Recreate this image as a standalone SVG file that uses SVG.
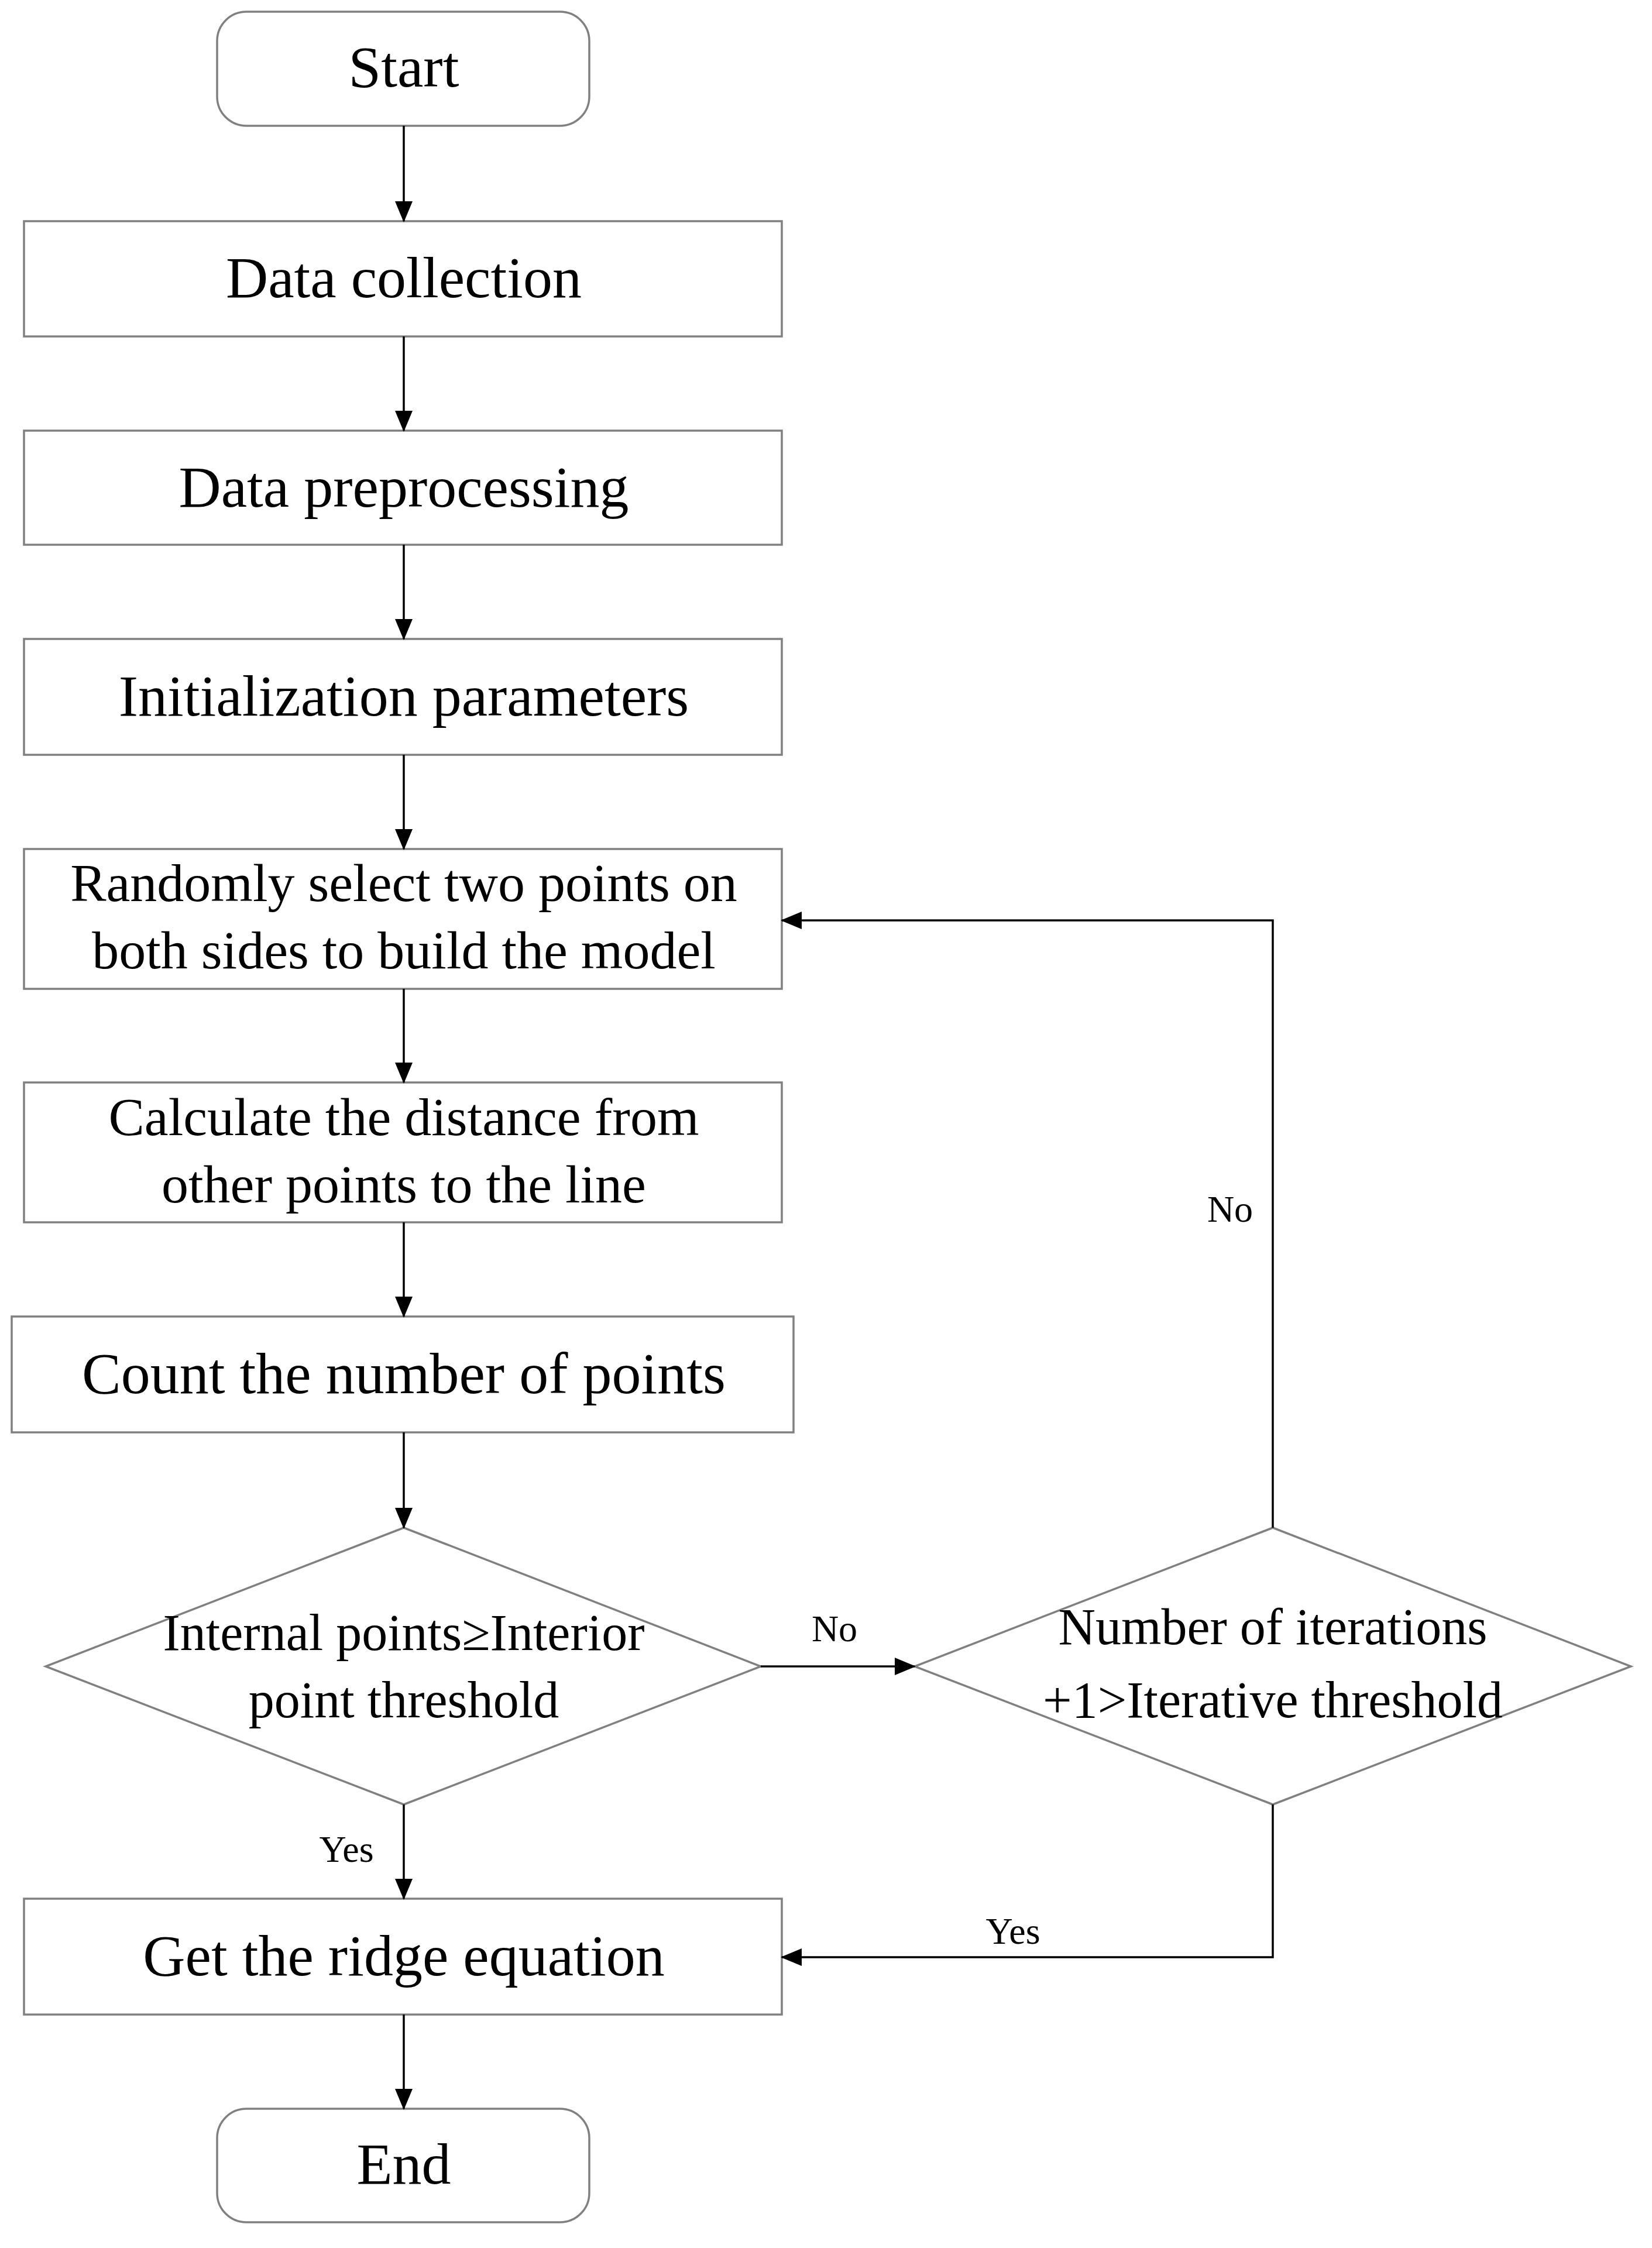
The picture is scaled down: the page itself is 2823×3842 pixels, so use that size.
<svg xmlns="http://www.w3.org/2000/svg" width="2823" height="3842" viewBox="0 0 2823 3842">
<style>
.b{fill:#fff;stroke:#808080;stroke-width:3.5}
.t{font-family:"Liberation Serif",serif;fill:#000;text-anchor:middle}
.l{fill:none;stroke:#000;stroke-width:3.5}
</style>
<defs><marker id="a" markerWidth="12" markerHeight="10" refX="11" refY="5" orient="auto" markerUnits="userSpaceOnUse" viewBox="0 0 12 10"><path d="M0,0L12,5L0,10z" fill="#000"/></marker>
<marker id="A" markerWidth="36" markerHeight="30" refX="34" refY="15" orient="auto" markerUnits="userSpaceOnUse"><path d="M0,0L36,15L0,30z" fill="#000"/></marker></defs>
<rect width="2823" height="3842" fill="#fff"/>
<g id="start"><rect class="b" x="371" y="20" width="636" height="195" rx="50"/><text class="t" x="690" y="148" font-size="100">Start</text></g>
<g id="n1"><rect class="b" x="41" y="378" width="1295" height="197"/><text class="t" x="690" y="508" font-size="100">Data collection</text></g>
<g id="n2"><rect class="b" x="41" y="736" width="1295" height="195"/><text class="t" x="690" y="866" font-size="100">Data preprocessing</text></g>
<g id="n3"><rect class="b" x="41" y="1092" width="1295" height="198"/><text class="t" x="690" y="1223" font-size="100">Initialization parameters</text></g>
<g id="n4"><rect class="b" x="41" y="1451" width="1295" height="239"/><text class="t" x="690" y="1540" font-size="92">Randomly select two points on</text><text class="t" x="690" y="1655" font-size="92">both sides to build the model</text></g>
<g id="n5"><rect class="b" x="41" y="1850" width="1295" height="239"/><text class="t" x="690" y="1940" font-size="92">Calculate the distance from</text><text class="t" x="690" y="2055" font-size="92">other points to the line</text></g>
<g id="n6"><rect class="b" x="20" y="2250" width="1336" height="198"/><text class="t" x="690" y="2381" font-size="100">Count the number of points</text></g>
<g id="d1"><polygon class="b" points="690,2611 1300,2848 690,3084 78,2848"/><text class="t" x="690" y="2820" font-size="88">Internal points≥Interior</text><text class="t" x="690" y="2935" font-size="88">point threshold</text></g>
<g id="d2"><polygon class="b" points="2175,2611 2787,2848 2175,3084 1563,2848"/><text class="t" x="2175" y="2810" font-size="88">Number of iterations</text><text class="t" x="2175" y="2935" font-size="88">+1&gt;Iterative threshold</text></g>
<g id="n7"><rect class="b" x="41" y="3245" width="1295" height="198"/><text class="t" x="690" y="3376" font-size="100">Get the ridge equation</text></g>
<g id="end"><rect class="b" x="371" y="3604" width="636" height="194" rx="50"/><text class="t" x="690" y="3732" font-size="100">End</text></g>
<g id="connectors">
<line class="l" x1="690" y1="215" x2="690" y2="378" marker-end="url(#A)"/>
<line class="l" x1="690" y1="575" x2="690" y2="736" marker-end="url(#A)"/>
<line class="l" x1="690" y1="931" x2="690" y2="1092" marker-end="url(#A)"/>
<line class="l" x1="690" y1="1290" x2="690" y2="1451" marker-end="url(#A)"/>
<line class="l" x1="690" y1="1690" x2="690" y2="1850" marker-end="url(#A)"/>
<line class="l" x1="690" y1="2089" x2="690" y2="2250" marker-end="url(#A)"/>
<line class="l" x1="690" y1="2448" x2="690" y2="2611" marker-end="url(#A)"/>
<line class="l" x1="690" y1="3084" x2="690" y2="3245" marker-end="url(#A)"/>
<line class="l" x1="690" y1="3443" x2="690" y2="3604" marker-end="url(#A)"/>
<line class="l" x1="1300" y1="2848" x2="1563" y2="2848" marker-end="url(#A)"/>
<polyline class="l" points="2175,2611 2175,1573 1336,1573" marker-end="url(#A)"/>
<polyline class="l" points="2175,3084 2175,3345 1336,3345" marker-end="url(#A)"/>
<text class="t" x="2102" y="2088" font-size="64">No</text>
<text class="t" x="1426" y="2805" font-size="64">No</text>
<text class="t" x="592" y="3182" font-size="64">Yes</text>
<text class="t" x="1731" y="3322" font-size="64">Yes</text>
</g>
</svg>
